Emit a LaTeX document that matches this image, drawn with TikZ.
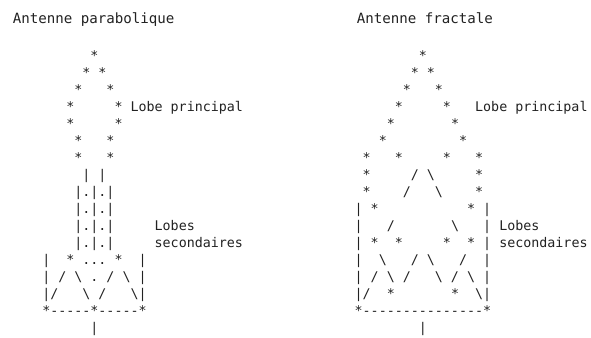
\documentclass[tikz,border=0pt]{standalone}
\usepackage{fontspec}
\setmonofont{DejaVu Sans Mono}
\usepackage{tikz}
\definecolor{ink}{HTML}{222222}
\newcommand{\bs}{\textbackslash}
\newcommand{\tridot}{...}
\tikzset{
  art/.style={font=\ttfamily\fontsize{10}{12}\selectfont, text=ink, inner sep=0pt, anchor=base west},
  heading/.style={font=\ttfamily\fontsize{10.6}{12}\selectfont, text=ink, inner sep=0pt, anchor=base west}
}

\begin{document}
\begin{tikzpicture}[x=0.75pt, y=-0.75pt]
  \fill[white] (0,0) rectangle (591,338);
  \useasboundingbox (0,0) rectangle (591,338);

  \node[heading] (titleL) at (12.5,24) {Antenne parabolique};
  \node[heading] (titleR) at (356.5,24) {Antenne fractale};

  % Parabolic antenna
  \foreach \row [count=\r] in {
    {~~~~~~*}, {~~~~~*~*}, {~~~~*~~~*}, {~~~*~~~~~*}, {~~~*~~~~~*},
    {~~~~*~~~*}, {~~~~*~~~*}, {~~~~~|~|}, {~~~~|.|.|}, {~~~~|.|.|},
    {~~~~|.|.|}, {~~~~|.|.|}, {|~~*~\tridot~*~~|}, {|~/~\bs~.~/~\bs~|},
    {|/~~~\bs~/~~~\bs|}, {*-----*-----*}, {~~~~~~|}
  }{
    \node[art] (pl\r) at (42.0,{60.5+17*(\r-1)}) {\row};
  }
  \node[art] (mainL) at (130.3,111.5) {Lobe principal};
  \node[art] (sideL1) at (154.4,230.5) {Lobes};
  \node[art] (sideL2) at (154.4,247.5) {secondaires};

  % Fractal antenna
  \foreach \row [count=\r] in {
    {~~~~~~~~*}, {~~~~~~~*~*}, {~~~~~~*~~~*}, {~~~~~*~~~~~*},
    {~~~~*~~~~~~~*}, {~~~*~~~~~~~~~*}, {~*~~~*~~~~~*~~~*},
    {~*~~~~~/~\bs~~~~~*}, {~*~~~~/~~~\bs~~~~*}, {|~*~~~~~~~~~~~*~|},
    {|~~~/~~~~~~~\bs~~~|}, {|~*~~*~~~~~*~~*~|}, {|~~\bs~~~/~\bs~~~/~~|},
    {|~/~\bs~/~~~\bs~/~\bs~|}, {|/~~*~~~~~~~*~~\bs|}, {*---------------*},
    {~~~~~~~~|}
  }{
    \node[art] (fr\r) at (354.4,{60.5+17*(\r-1)}) {\row};
  }
  \node[art] (mainR) at (474.9,111.5) {Lobe principal};
  \node[art] (sideR1) at (499.0,230.5) {Lobes};
  \node[art] (sideR2) at (499.0,247.5) {secondaires};
\end{tikzpicture}
\end{document}
